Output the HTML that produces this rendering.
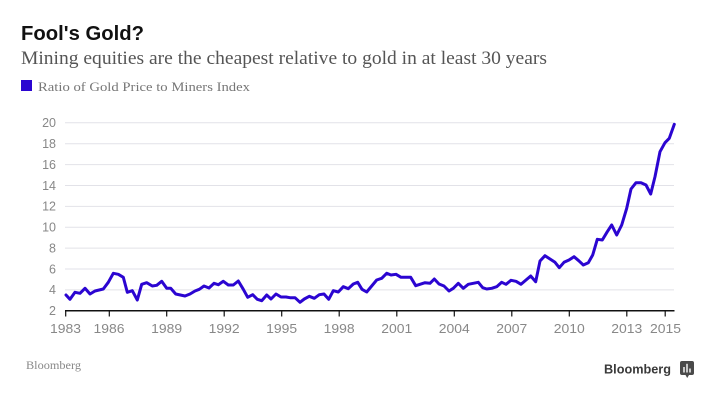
<!DOCTYPE html>
<html><head><meta charset="utf-8"><style>
html,body{margin:0;padding:0;background:#fff;}
svg{display:block;}
</style></head><body>
<svg width="720" height="403" viewBox="0 0 720 403" xmlns="http://www.w3.org/2000/svg">
<rect width="720" height="403" fill="#fff"/>
<text x="21" y="40" font-family="Liberation Sans, sans-serif" font-weight="bold" font-size="20.5" fill="#111" textLength="123" lengthAdjust="spacingAndGlyphs">Fool's Gold?</text>
<text x="21" y="64" font-family="Liberation Serif, serif" font-size="18.5" fill="#555" textLength="526" lengthAdjust="spacingAndGlyphs">Mining equities are the cheapest relative to gold in at least 30 years</text>
<rect x="21" y="80" width="11" height="11" fill="#2b05d1"/>
<text x="38" y="91" font-family="Liberation Serif, serif" font-size="13" fill="#777" textLength="212" lengthAdjust="spacingAndGlyphs">Ratio of Gold Price to Miners Index</text>
<g stroke="#e2e2e8" stroke-width="1">
<line x1="65" x2="674" y1="122.8" y2="122.8"/>
<line x1="65" x2="674" y1="143.7" y2="143.7"/>
<line x1="65" x2="674" y1="164.6" y2="164.6"/>
<line x1="65" x2="674" y1="185.5" y2="185.5"/>
<line x1="65" x2="674" y1="206.4" y2="206.4"/>
<line x1="65" x2="674" y1="227.2" y2="227.2"/>
<line x1="65" x2="674" y1="248.1" y2="248.1"/>
<line x1="65" x2="674" y1="269.0" y2="269.0"/>
<line x1="65" x2="674" y1="289.9" y2="289.9"/>
</g>
<g font-family="Liberation Sans, sans-serif" font-size="12.5" fill="#888" text-anchor="end">
<text x="56" y="127.1">20</text>
<text x="56" y="148.0">18</text>
<text x="56" y="168.9">16</text>
<text x="56" y="189.8">14</text>
<text x="56" y="210.7">12</text>
<text x="56" y="231.5">10</text>
<text x="56" y="252.4">8</text>
<text x="56" y="273.3">6</text>
<text x="56" y="294.2">4</text>
<text x="56" y="315.1">2</text>
</g>
<line x1="65" x2="674.5" y1="310.8" y2="310.8" stroke="#111" stroke-width="1.5"/>
<g stroke="#111" stroke-width="1.2">
<line x1="65.7" x2="65.7" y1="310.8" y2="316.5"/>
<line x1="109.3" x2="109.3" y1="310.8" y2="316.5"/>
<line x1="166.7" x2="166.7" y1="310.8" y2="316.5"/>
<line x1="224.2" x2="224.2" y1="310.8" y2="316.5"/>
<line x1="281.7" x2="281.7" y1="310.8" y2="316.5"/>
<line x1="339.2" x2="339.2" y1="310.8" y2="316.5"/>
<line x1="396.8" x2="396.8" y1="310.8" y2="316.5"/>
<line x1="454.3" x2="454.3" y1="310.8" y2="316.5"/>
<line x1="511.8" x2="511.8" y1="310.8" y2="316.5"/>
<line x1="569.3" x2="569.3" y1="310.8" y2="316.5"/>
<line x1="626.8" x2="626.8" y1="310.8" y2="316.5"/>
<line x1="665.2" x2="665.2" y1="310.8" y2="316.5"/>
</g>
<g font-family="Liberation Sans, sans-serif" font-size="12.5" fill="#888" text-anchor="middle">
<text x="65.5" y="332.8" textLength="31" lengthAdjust="spacingAndGlyphs">1983</text>
<text x="109" y="332.8" textLength="31" lengthAdjust="spacingAndGlyphs">1986</text>
<text x="166.7" y="332.8" textLength="31" lengthAdjust="spacingAndGlyphs">1989</text>
<text x="224.2" y="332.8" textLength="31" lengthAdjust="spacingAndGlyphs">1992</text>
<text x="281.7" y="332.8" textLength="31" lengthAdjust="spacingAndGlyphs">1995</text>
<text x="339.2" y="332.8" textLength="31" lengthAdjust="spacingAndGlyphs">1998</text>
<text x="396.8" y="332.8" textLength="31" lengthAdjust="spacingAndGlyphs">2001</text>
<text x="454.3" y="332.8" textLength="31" lengthAdjust="spacingAndGlyphs">2004</text>
<text x="511.8" y="332.8" textLength="31" lengthAdjust="spacingAndGlyphs">2007</text>
<text x="569.3" y="332.8" textLength="31" lengthAdjust="spacingAndGlyphs">2010</text>
<text x="626.8" y="332.8" textLength="31" lengthAdjust="spacingAndGlyphs">2013</text>
<text x="665.5" y="332.8" textLength="31" lengthAdjust="spacingAndGlyphs">2015</text>
</g>
<polyline fill="none" stroke="#2b05d1" stroke-width="3" stroke-linejoin="round" stroke-linecap="round" points="66,295 70,299.3 75,292.3 80,293.3 85,288.3 90,294 95,291 103.3,289 108.3,282.3 113.3,273.3 118.3,274.3 123.3,277.3 127.3,292.3 132.3,290.7 137.3,300 141.7,284.3 146.7,282.7 152.3,286 156.7,285.3 161.7,281.3 166.7,288.3 170.7,288.3 175.7,294 185,296 190,294 195,291 199.3,289.3 204,286 209,288 214,283.3 218.3,284.7 223.3,281.3 228.3,285 233.3,285 238.3,281 243.3,289.3 247.7,297.3 252.7,294.7 257.3,299.3 261.7,300.7 266.7,295 271,299 276,294 281,297 286,297 290,297.7 295,297.7 300,302.3 304.3,299 309.3,296.3 314.3,298.3 319.3,294.7 324,294 328.7,299.3 333.3,290.7 338.3,292 343.3,286.7 348.3,288.7 353.3,284 357.7,282.3 362,289.3 366.7,292 371.7,286 376.7,280 381.7,278.3 386.7,273.3 391,275 396,274.3 401,277.3 406,277.3 410.7,277.3 415.7,285.7 420,284.3 425,282.7 430,283.3 434.3,279 439,284 444,286 449,291 453.3,288.3 458.3,283.3 463.3,288.3 468.3,284.3 473.3,283.3 478.3,282.3 482.7,287.7 486.7,289 491.7,288.3 496.7,286.7 501.7,282.3 506,284.3 511,280.3 516,281.3 521,284.3 526,280 530.7,276 535.7,281.7 540,261 545,255.7 550,259 555,262.3 559.3,267.7 564,262.3 569,260 574,256.7 578.7,260.7 583.3,265 588.3,262.7 592.7,255 597.3,239.3 602.3,240 607.3,231.7 611.7,225 616.7,235 621.7,225 626.7,208.3 631,189 636,182.7 641,182.7 646,185 650.7,194 655,176.7 660,151.7 665,142.7 669.3,138.3 674.3,124.3"/>
<text x="26" y="369" font-family="Liberation Serif, serif" font-size="12" fill="#888" textLength="55" lengthAdjust="spacingAndGlyphs">Bloomberg</text>
<text x="604" y="373.3" font-family="Liberation Sans, sans-serif" font-weight="bold" font-size="13" fill="#3a3a3a" textLength="67" lengthAdjust="spacingAndGlyphs">Bloomberg</text>
<rect x="680" y="361" width="14" height="14" rx="2" fill="#4a4a4a"/>
<polygon points="685.5,375 689,375 687.2,378" fill="#4a4a4a"/>
<g fill="#fff">
<rect x="683.3" y="367" width="1.4" height="5.5"/>
<rect x="686.3" y="363.8" width="1.4" height="8.7"/>
<rect x="689.3" y="368.5" width="1.4" height="4"/>
</g>
</svg>
</body></html>
